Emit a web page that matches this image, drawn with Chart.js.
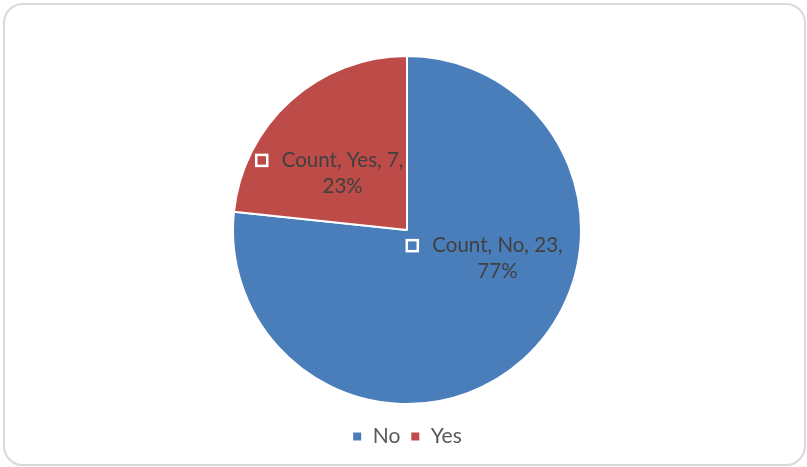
<!DOCTYPE html>
<html>
<head>
<meta charset="utf-8">
<script src="https://cdn.jsdelivr.net/npm/chart.js@4.4.1/dist/chart.umd.min.js"></script>
<style>
  html, body { margin: 0; padding: 0; background: #fff; }
  #wrap { position: relative; width: 807px; height: 467px; }
  #frame {
    position: absolute; left: 3px; top: 3px; width: 799px; height: 459px;
    border: 2px solid #d9d9d9; border-radius: 20px;
  }
  #pie { position: absolute; left: 0; top: 0; }
</style>
</head>
<body>
<div id="wrap">
  <div id="frame"></div>
  <canvas id="pie" width="807" height="467"></canvas>
</div>
<script>
const categories = ['No', 'Yes'];
const counts = [23, 7];
const seriesName = 'Count';
const sliceColors = ['#4a7ebb', '#bd4b48'];

const total = counts.reduce((a, b) => a + b, 0);

// where each label block sits, as a fraction of the radius from the pie centre
const labelSpots = [
  { fx: 0.52, fy: 0.09 },
  { fx: -0.37, fy: -0.40 }
];

const sliceLabels = {
  id: 'sliceLabels',
  afterDatasetsDraw(chart) {
    const ctx = chart.ctx;
    const meta = chart.getDatasetMeta(0);
    ctx.save();
    ctx.font = '20.5px Lato';
    ctx.textBaseline = 'middle';
    ctx.textAlign = 'center';
    meta.data.forEach((arc, i) => {
      const r = arc.outerRadius;
      const cx = arc.x + labelSpots[i].fx * r;
      const cy = arc.y + labelSpots[i].fy * r;
      const pct = Math.round(counts[i] / total * 100) + '%';
      const line1 = seriesName + ', ' + categories[i] + ', ' + counts[i] + ',';
      ctx.fillStyle = '#404040';
      ctx.fillText(line1, cx, cy);
      ctx.fillText(pct, cx, cy + 26);
      // legend key in front of the first line
      const w = ctx.measureText(line1).width;
      const kx = cx - w / 2 - 20;
      ctx.fillStyle = sliceColors[i];
      ctx.strokeStyle = '#ffffff';
      ctx.lineWidth = 2.5;
      ctx.fillRect(kx - 5.5, cy - 5.5, 11, 11);
      ctx.strokeRect(kx - 5.5, cy - 5.5, 11, 11);
    });
    ctx.restore();
  }
};

const ctx1 = document.getElementById('pie').getContext('2d');
const myPieChart = new Chart(ctx1, {
  type: 'pie',
  data: {
    labels: categories,
    datasets: [{
      label: seriesName,
      data: counts,
      backgroundColor: sliceColors,
      borderColor: '#ffffff',
      borderWidth: 2,
      radius: 174
    }]
  },
  options: {
    responsive: false,
    animation: false,
    layout: { padding: { top: 44, bottom: 10, left: 7, right: 0 } },
    plugins: {
      tooltip: { enabled: false },
      legend: {
        position: 'bottom',
        labels: {
          color: '#595959',
          font: { family: 'Lato', size: 21 },
          boxWidth: 10,
          boxHeight: 10,
          padding: 10
        }
      }
    }
  },
  plugins: [sliceLabels]
});
</script>
</body>
</html>
